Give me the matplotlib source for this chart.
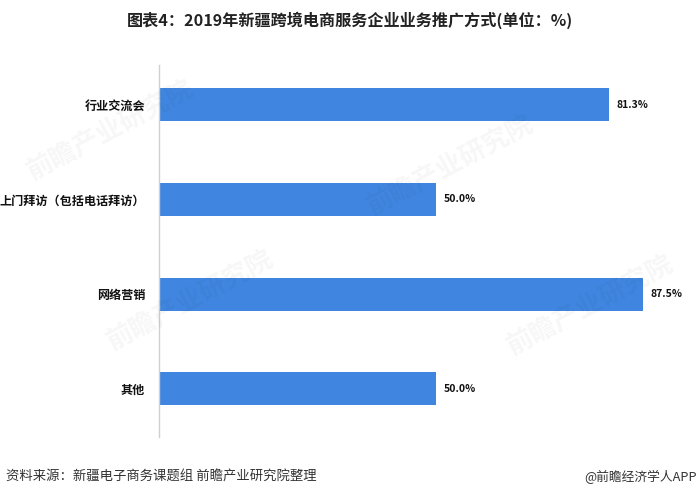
import matplotlib
matplotlib.use("Agg")
import matplotlib.pyplot as plt

plt.rcParams['font.family'] = ['Noto Sans CJK SC', 'DejaVu Sans']

categories = ['行业交流会', '上门拜访（包括电话拜访）', '网络营销', '其他']
values = [81.3, 50.0, 87.5, 50.0]
value_labels = ['81.3%', '50.0%', '87.5%', '50.0%']
title = '图表4：2019年新疆跨境电商服务企业业务推广方式(单位：%)'
source = '资料来源：新疆电子商务课题组 前瞻产业研究院整理'
brand = '@前瞻经济学人APP'
watermark = '前瞻产业研究院'

fig = plt.figure(figsize=(6.99, 5.0), dpi=100)
ax = fig.add_axes([159/699, 1-437/500, 531/699, 372/500])

# faint watermarks
for wx, wy in [(110, 130), (450, 165), (190, 300), (590, 305)]:
    fig.text(wx/699, 1-wy/500, watermark, ha='center', va='center',
             fontsize=19, fontweight='bold', color='#000000', alpha=0.035,
             rotation=28, zorder=0)

y = list(range(len(categories)))
ax.barh(y, values, height=0.35, color='#4086E0', zorder=2)
for yi, v, lab in zip(y, values, value_labels):
    ax.text(v + 1.4, yi, lab, va='center', ha='left', fontsize=7.5,
            fontweight='bold', color='#111111')

ax.patch.set_alpha(0)
ax.set_xlim(0, 96)
ax.set_ylim(3.51, -0.42)
ax.set_yticks(y)
ax.set_yticklabels(categories, fontsize=8.7, fontweight='bold', color='#111111')
ax.tick_params(axis='y', length=0, pad=10)
ax.set_xticks([])
for s in ['top', 'right', 'bottom']:
    ax.spines[s].set_visible(False)
ax.spines['left'].set_color('#d0d0d0')
ax.spines['left'].set_linewidth(1.0)

fig.text(0.5, 1-20/500, title, ha='center', va='center', fontsize=11.6,
         fontweight='bold', color='#222222')
fig.text(6/699, 1-477/500, source, ha='left', va='center', fontsize=9.6,
         color='#333333')
fig.text(697/699, 1-477/500, brand, ha='right', va='center', fontsize=9.2,
         color='#333333')

fig.savefig('out.png', dpi=100)
